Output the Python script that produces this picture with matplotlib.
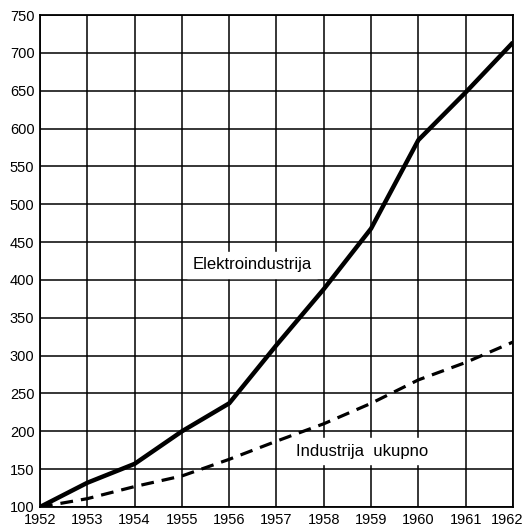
import matplotlib
matplotlib.use("Agg")
import matplotlib.pyplot as plt
import matplotlib.transforms as mtransforms

# podaci (indeks, 1952 = 100)
godine = [1952, 1953, 1954, 1955, 1956, 1957, 1958, 1959, 1960, 1961, 1962]
elektro = [100, 132, 157, 200, 237, 314, 388, 468, 585, 648, 714]
industrija = [100, 111, 127, 141, 163, 187, 210, 237, 268, 291, 318]
y_ticks = list(range(100, 751, 50))

plt.rcParams["font.family"] = ["Liberation Sans", "DejaVu Sans"]

fig = plt.figure(figsize=(5.24, 5.30), dpi=100)
ax = fig.add_axes([0.0763, 0.0434, 0.9027, 0.928])

ax.plot(godine, elektro, color="black", linewidth=3.2, solid_capstyle="butt", zorder=3)
ax.plot(godine, industrija, color="black", linewidth=2.3, linestyle=(0, (4, 2.5)), zorder=3)

ax.text(1956.48, 420, "Elektroindustrija", ha="center", va="center", fontsize=12,
        backgroundcolor="white", zorder=4)
ax.text(1958.8, 174, "Industrija  ukupno", ha="center", va="center", fontsize=12,
        backgroundcolor="white", zorder=4)

ax.set_xlim(1952, 1962)
ax.set_ylim(100, 750)
ax.set_xticks(godine)
ax.set_yticks(y_ticks)
ax.grid(True, color="black", linewidth=1.1)
ax.tick_params(length=0, labelsize=10.5, pad=4)
for s in ax.spines.values():
    s.set_linewidth(1.3)

# zadnja oznaka godine malo ulijevo da ne bude odrezana
fig.canvas.draw()
zadnja = ax.get_xticklabels()[-1]
zadnja.set_ha("right")
zadnja.set_transform(zadnja.get_transform() + mtransforms.ScaledTranslation(10 / 100, 0, fig.dpi_scale_trans))

fig.savefig("out.png", dpi=100)
